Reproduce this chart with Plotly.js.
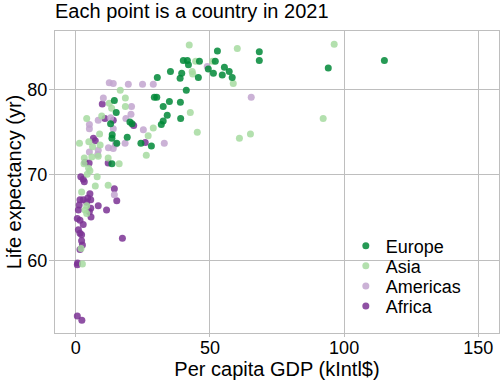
<!DOCTYPE html>
<html>
<head>
<meta charset="utf-8">
<script src="https://cdn.plot.ly/plotly-3.0.1.min.js"></script>
<style>html,body{margin:0;padding:0;background:#fff;}</style>
</head>
<body>
<div id="chart" style="width:504px;height:387px;"></div>
<script>
const continents = ["Europe", "Asia", "Americas", "Africa"];
const colors = ["#008837", "#a6dba0", "#c2a5cf", "#7b3294"];

const europeGdp = [52.8,68.4,68.4,115.0,94.1,40.1,41.6,42.0,46.1,52.0,39.5,38.9,45.7,49.4,51.3,55.4,57.2,54.6,58.3,41.2,39.0,39.1,35.3,30.4,29.3,30.2,34.9,32.6,34.1,32.6,31.9,24.3,28.2,19.2,14.4,15.1,13.0,20.2,21.0,13.6,13.5,15.3,13.5];
const europeLife = [84.5,84.4,83.4,83.4,82.5,83.4,83.4,82.9,83.3,83.3,81.9,81.3,81.4,82.4,81.9,82.6,82.1,81.7,81.4,79.9,78.5,76.6,82.1,81.4,79.1,79.1,78.6,78.0,77.0,76.3,75.9,73.7,73.4,74.4,78.7,77.3,76.0,76.2,76.0,74.7,74.3,73.7,71.3];

const asiaGdp = [42.3,60.2,96.3,44.7,51.0,43.4,43.6,58.7,42.7,92.2,45.3,65.1,61.0,16.6,28.9,27.0,26.3,18.5,12.5,13.4,18.5,9.7,4.1,8.9,1.4,4.9,6.3,9.1,8.4,3.2,6.0,12.1,16.2,3.1,4.8,5.3,4.3,8.0,7.3,12.1,2.2,3.5,4.1,2.5,2.0,4.1];
const asiaLife = [85.2,84.8,85.3,83.3,83.3,82.1,81.8,80.7,77.3,76.6,75.0,74.8,74.3,79.9,75.5,74.6,72.3,79.0,78.4,77.8,78.0,76.9,76.6,74.8,73.7,73.9,73.3,73.5,72.2,72.0,72.1,72.0,71.3,71.3,70.8,70.5,70.1,69.8,68.7,68.8,68.0,65.9,65.5,59.6,61.4,66.4];

const americasGdp = [49.0,65.4,33.0,12.5,14.0,19.6,24.9,28.9,25.2,10.3,20.8,20.6,13.0,8.4,18.7,14.0,5.1,5.1,14.8,18.4,12.2,14.0,8.4,8.2,5.1,14.4];
const americasLife = [82.7,79.1,73.7,80.8,80.7,80.6,80.6,80.6,75.3,79.0,78.0,77.1,76.7,76.4,76.6,75.4,75.9,75.4,73.6,73.7,73.2,73.1,72.9,72.4,72.7,67.7];

const africaGdp = [25.9,9.9,10.9,14.0,21.6,6.6,7.3,12.1,3.5,5.0,1.9,2.8,3.2,14.4,15.3,17.4,0.6,0.7,0.6,2.3,5.3,4.5,5.6,2.8,1.6,1.0,1.3,4.1,8.4,11.5,5.6,5.1,5.7,0.6,1.6,2.8,1.0,1.6,2.2,2.2,2.5,1.6];
const africaLife = [73.8,78.3,76.6,76.4,75.8,74.3,74.0,71.4,71.5,71.4,69.8,69.5,69.2,68.4,67.0,62.6,59.5,59.7,53.5,53.0,67.8,67.3,67.1,67.1,67.1,65.9,66.5,66.8,66.4,65.9,66.1,65.7,65.1,64.9,64.7,64.2,63.6,63.2,63.0,62.3,61.8,61.3];

const xTicks = [0, 50, 100, 150];
const yTicks = [60, 70, 80];

const seriesX = [europeGdp, asiaGdp, americasGdp, africaGdp];
const seriesY = [europeLife, asiaLife, americasLife, africaLife];
const legendIds = ["legend", "legend2", "legend3", "legend4"];

const FONT = "Liberation Sans, Arial, sans-serif";
const GRID = "#bebebe";

// draw Africa first so Europe sits on top
const traces = [];
for (let i = continents.length - 1; i >= 0; i--) {
  traces.push({
    type: "scatter",
    mode: "markers",
    name: continents[i],
    x: seriesX[i],
    y: seriesY[i],
    legend: legendIds[i],
    marker: {color: colors[i], size: 7, opacity: 0.85},
    hoverinfo: "skip"
  });
}

const legendY = [0.288, 0.222, 0.155, 0.088];
const layout = {
  width: 504,
  height: 387,
  margin: {l: 55, r: 5, t: 31, b: 54},
  paper_bgcolor: "#ffffff",
  plot_bgcolor: "#ffffff",
  font: {family: FONT, size: 18, color: "#000"},
  showlegend: true,
  title: {
    text: "Each point is a country in 2021",
    font: {family: FONT, size: 20, color: "#000"},
    x: 0, xref: "paper", xanchor: "left",
    y: 1 - 4 / 387, yref: "container", yanchor: "top"
  },
  xaxis: {
    range: [-7.71, 157.7],
    tickvals: xTicks,
    ticktext: xTicks.map(String),
    showgrid: true, gridcolor: GRID, gridwidth: 1,
    zeroline: false,
    showline: true, mirror: true, linecolor: GRID, linewidth: 1,
    ticks: "outside", ticklen: 3, tickcolor: GRID,
    ticklabelstandoff: -5,
    tickfont: {family: FONT, size: 18, color: "#000"},
    title: {text: "Per capita GDP (kIntl$)", font: {family: FONT, size: 20, color: "#000"}, standoff: 0}
  },
  yaxis: {
    range: [51.52, 86.84],
    tickvals: yTicks,
    ticktext: yTicks.map(String),
    showgrid: true, gridcolor: GRID, gridwidth: 1,
    zeroline: false,
    showline: true, mirror: true, linecolor: GRID, linewidth: 1,
    ticks: "outside", ticklen: 5, tickcolor: GRID,
    ticklabelstandoff: -2,
    tickfont: {family: FONT, size: 18, color: "#000"},
    title: {text: "Life expectancy (yr)", font: {family: FONT, size: 20, color: "#000"}, standoff: 0}
  }
};
legendIds.forEach((id, i) => {
  layout[id] = {
    x: 0.655, xref: "paper", xanchor: "left",
    y: legendY[i], yref: "paper", yanchor: "middle",
    bgcolor: "rgba(0,0,0,0)", borderwidth: 0,
    font: {family: FONT, size: 18, color: "#000"}
  };
});

Plotly.newPlot("chart", traces, layout, {displayModeBar: false, staticPlot: true});
</script>
</body>
</html>
